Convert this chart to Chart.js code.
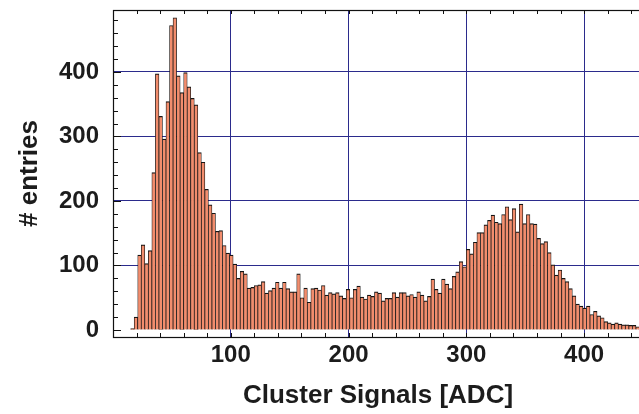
<!DOCTYPE html>
<html>
<head>
<meta charset="utf-8">
<script src="https://cdn.jsdelivr.net/npm/chart.js@4/dist/chart.umd.min.js"></script>
<style>
  html, body { margin: 0; padding: 0; background: #fff; overflow: hidden; }
  #wrap { width: 643px; height: 414px; }
</style>
</head>
<body>
<div id="wrap"><canvas id="hist" width="643" height="414"></canvas></div>
<script>
"use strict";

// histogram: 3 ADC wide bins starting at 0
const binWidth = 3;
const counts = [
  0, 0, 0, 0, 0, 2, 20, 116, 132, 103,
  123, 244, 397, 331, 296, 354, 472, 484, 394, 368,
  399, 377, 359, 349, 275, 260, 218, 194, 181, 153,
  154, 131, 119, 116, 102, 80, 91, 87, 65, 66,
  69, 70, 75, 57, 61, 65, 74, 65, 74, 64,
  59, 59, 87, 50, 65, 43, 64, 65, 62, 69,
  54, 58, 56, 58, 53, 49, 63, 50, 63, 68,
  51, 48, 54, 52, 59, 57, 45, 49, 49, 58,
  51, 58, 58, 53, 55, 51, 59, 54, 45, 52,
  79, 63, 57, 79, 71, 64, 83, 90, 106, 98,
  125, 118, 136, 151, 151, 163, 170, 178, 167, 165,
  179, 191, 171, 188, 152, 195, 165, 179, 165, 164,
  142, 134, 137, 120, 101, 85, 93, 80, 75, 64,
  53, 40, 37, 34, 37, 24, 29, 22, 19, 13,
  11, 9, 11, 9, 8, 8, 7, 7, 5, 5
];
const xTicks = [100, 200, 300, 400];
const yTicks = [0, 100, 200, 300, 400];

const xTitle = "Cluster Signals [ADC]";
const yTitle = "# entries";

const gridBlue = "#2b2b8c";
const textColor = "#1c1c1c";
const fontFamily = "'Liberation Sans', Arial, Helvetica, sans-serif";

const points = counts.map((c, i) => ({ x: i * binWidth + binWidth / 2, y: c }));

// ROOT-style frame with small inward ticks every 20 units
const framePlugin = {
  id: "frame",
  afterDatasetsDraw(chart) {
    const { ctx, chartArea: a, scales: { x, y } } = chart;
    ctx.save();
    ctx.strokeStyle = "#111";
    ctx.lineWidth = 1;
    ctx.beginPath();
    for (let v = 20; v < x.max; v += 20) {
      const px = Math.round(x.getPixelForValue(v)) + 0.5;
      ctx.moveTo(px, a.bottom);
      ctx.lineTo(px, a.bottom - 4);
      ctx.moveTo(px, a.top);
      ctx.lineTo(px, a.top + 4);
    }
    for (let v = 0; v < y.max; v += 20) {
      const py = Math.round(y.getPixelForValue(v)) + 0.5;
      ctx.moveTo(a.left, py);
      ctx.lineTo(a.left + (v % 100 === 0 ? 8 : 5), py);
    }
    ctx.stroke();
    ctx.lineWidth = 1.2;
    ctx.strokeRect(Math.round(a.left) + 0.5, Math.round(a.top) + 0.5,
      Math.round(a.right - a.left), Math.round(a.bottom - a.top));
    ctx.restore();
  }
};

new Chart(document.getElementById("hist"), {
  type: "bar",
  data: {
    datasets: [
      {
        data: points,
        backgroundColor: "#f28d6d",
        borderColor: "#151515",
        borderWidth: { top: 1.2, left: 0.75, right: 0.75, bottom: 0 },
        borderSkipped: false,
        barPercentage: 1,
        categoryPercentage: 1,
      },
    ],
  },
  options: {
    responsive: false,
    animation: false,
    layout: { padding: { top: 10, left: 0, right: 0, bottom: 0 } },
    plugins: {
      legend: { display: false },
      tooltip: { enabled: false },
    },
    scales: {
      x: {
        type: "linear",
        min: 0,
        max: 450,
        offset: false,
        afterBuildTicks: (s) => { s.ticks = xTicks.map((v) => ({ value: v })); },
        afterFit: (s) => {
          s.height = 77;
          s.paddingLeft = 0;
          s.paddingRight = 0;
        },
        grid: { offset: false, color: gridBlue, lineWidth: 1, drawTicks: false },
        border: { display: false },
        ticks: {
          padding: 4,
          color: textColor,
          font: { family: fontFamily, size: 24, weight: "bold" },
          maxRotation: 0,
        },
        title: {
          display: true,
          text: xTitle,
          color: textColor,
          padding: { top: 0, bottom: 3 },
          font: { family: fontFamily, size: 26, weight: "bold" },
        },
      },
      y: {
        min: -10.9,
        max: 496,
        afterBuildTicks: (s) => { s.ticks = yTicks.map((v) => ({ value: v })); },
        afterFit: (s) => {
          s.width = 113;
          s.paddingTop = 0;
          s.paddingBottom = 0;
        },
        grid: {
          color: (c) => (c.tick && c.tick.value > 0 ? gridBlue : "rgba(0,0,0,0)"),
          lineWidth: 1,
          drawTicks: false,
        },
        border: { display: false },
        ticks: {
          padding: 14,
          color: textColor,
          font: { family: fontFamily, size: 24, weight: "bold" },
        },
        title: {
          display: true,
          text: yTitle,
          color: textColor,
          padding: { top: 14, bottom: 0 },
          font: { family: fontFamily, size: 26, weight: "bold" },
        },
      },
    },
  },
  plugins: [framePlugin],
});
</script>
</body>
</html>
